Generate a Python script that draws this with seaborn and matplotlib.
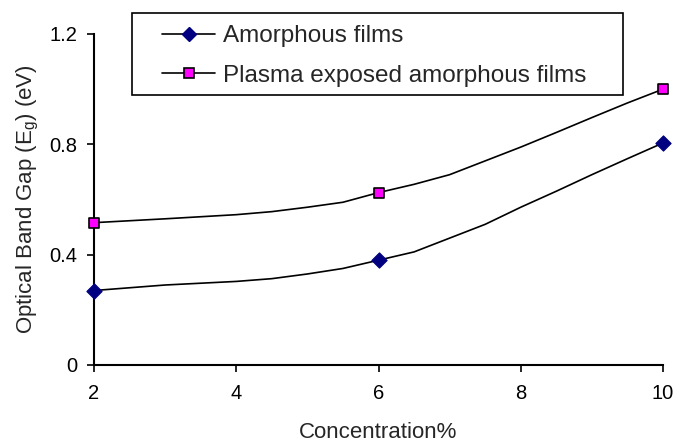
import matplotlib
matplotlib.use("Agg")
import matplotlib.pyplot as plt
import seaborn as sns
import pandas as pd
from matplotlib.lines import Line2D
from matplotlib.patches import Rectangle

# measured data points (markers)
conc = [2, 6, 10]
amorphous = [0.27, 0.38, 0.805]
plasma = [0.516, 0.625, 1.0]

# smoothed line path
path_x = [2, 3, 4, 4.5, 5, 5.5, 6, 6.5, 7, 7.5, 8, 8.5, 9, 9.5, 10]
amorphous_path = [0.27, 0.29, 0.303, 0.313, 0.33, 0.35, 0.38, 0.41, 0.46, 0.51, 0.572, 0.63, 0.69, 0.748, 0.805]
plasma_path = [0.516, 0.53, 0.545, 0.556, 0.572, 0.59, 0.625, 0.655, 0.69, 0.74, 0.79, 0.843, 0.897, 0.95, 1.0]

x_ticks = [2, 4, 6, 8, 10]
y_ticks = [0, 0.4, 0.8, 1.2]
y_tick_labels = ["0", "0.4", "0.8", "1.2"]

sns.set_theme(style="white")
plt.rcParams['font.family'] = ['Liberation Sans', 'DejaVu Sans']

W, H = 673, 446
fig = plt.figure(figsize=(W / 100, H / 100), dpi=100)
ax = fig.add_axes([94 / W, 1 - 365 / H, (663 - 94) / W, (365 - 34) / H])

df_path = pd.DataFrame({"x": path_x, "a": amorphous_path, "p": plasma_path})
df_pts = pd.DataFrame({"x": conc, "a": amorphous, "p": plasma})

sns.lineplot(data=df_path, x="x", y="a", ax=ax, color="black", lw=1.2, sort=False)
sns.lineplot(data=df_path, x="x", y="p", ax=ax, color="black", lw=1.2, sort=False)
sns.scatterplot(data=df_pts, x="x", y="a", ax=ax, marker="D", s=60, color="#000080",
                edgecolor="#000080", linewidth=0.8, zorder=5, clip_on=False)
sns.scatterplot(data=df_pts, x="x", y="p", ax=ax, marker="s", s=60, color="#FF00FF",
                edgecolor="black", linewidth=1.2, zorder=5, clip_on=False)

ax.set_xlim(2, 10)
ax.set_ylim(0, 1.2)
ax.set_xticks(x_ticks)
ax.set_xticklabels([str(t) for t in x_ticks])
ax.set_yticks(y_ticks)
ax.set_yticklabels(y_tick_labels)
ax.tick_params(axis="both", direction="out", length=5, width=1.2, colors="black",
               labelsize=14.5, bottom=True, left=True)
ax.tick_params(axis="x", pad=9)
ax.tick_params(axis="y", pad=7)
for s in ["top", "right"]:
    ax.spines[s].set_visible(False)
for s in ["left", "bottom"]:
    ax.spines[s].set_color("black")
    ax.spines[s].set_linewidth(1.5)

ax.set_xlabel("Concentration%", fontsize=16, labelpad=13)
ax.set_ylabel("Optical Band Gap (E$_\\mathregular{g}$) (eV)", fontsize=16, labelpad=6)

handles = [
    Line2D([0], [0], color="black", lw=1.2, marker="D", markersize=7.5,
           markerfacecolor="#000080", markeredgecolor="#000080"),
    Line2D([0], [0], color="black", lw=1.2, marker="s", markersize=7,
           markerfacecolor="#FF00FF", markeredgecolor="black", markeredgewidth=1.2),
]
fig.patches.append(Rectangle((132 / W, 1 - 95 / H), (623 - 132) / W, (95 - 13) / H,
                             transform=fig.transFigure, fill=False,
                             edgecolor="black", linewidth=1.2, zorder=10))
leg = fig.legend(handles, ["Amorphous films", "Plasma exposed amorphous films"],
                 loc="upper left", bbox_to_anchor=(162 / W, 1 - 25 / H),
                 bbox_transform=fig.transFigure, fontsize=17.5, frameon=False,
                 handlelength=2.2, labelspacing=0.72, borderpad=0, handletextpad=0.3,
                 borderaxespad=0)

fig.savefig("out.png", dpi=100)
